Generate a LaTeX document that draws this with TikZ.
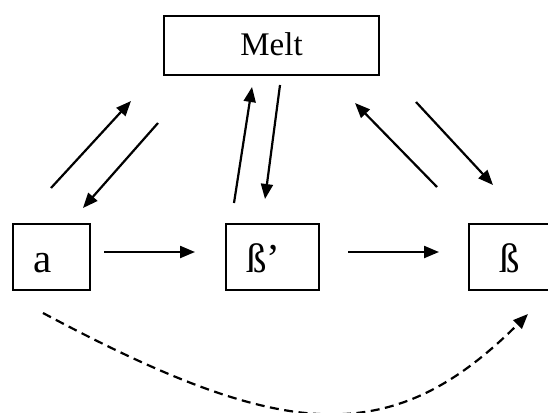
\documentclass[tikz,border=0pt]{standalone}
\usepackage{fontspec}
\setmainfont{Liberation Serif}
\usetikzlibrary{arrows.meta}
\begin{document}
\begin{tikzpicture}[x=1pt,y=-1pt,
  box/.style={draw, line width=2.2pt, minimum height=66pt, text height=30pt, text depth=0pt, inner ysep=0pt, font=\fontsize{41}{44}\selectfont, align=left},
  meltbox/.style={draw, line width=2.2pt, minimum width=215pt, minimum height=59pt, text height=21pt, text depth=0pt, inner sep=0pt, font=\fontsize{33}{36}\selectfont},
  arr/.style={line width=2.2pt, -{Triangle[length=15pt,width=12pt]}},
  dasharr/.style={arr, dash pattern=on 9pt off 5.5pt}]
\useasboundingbox (0,0) rectangle (548,412);
\node[meltbox] (melt) at (271.5,45.5) {Melt};
\node[box, text width=37pt, inner xsep=20pt] (a) at (51.5,257) {a};
\node[box, text width=53pt, inner xsep=20pt] (b1) at (272.5,257) {ß’};
\node[box, text width=23pt, inner xsep=30pt] (b) at (510.5,257) {ß};
% arrow end points
\coordinate (a1s) at (51,188);  \coordinate (a1e) at (131,101);
\coordinate (a2s) at (158,123); \coordinate (a2e) at (83,208);
\coordinate (a3s) at (234,203); \coordinate (a3e) at (252,87);
\coordinate (a4s) at (280,85);  \coordinate (a4e) at (265,199);
\coordinate (a5s) at (437,187); \coordinate (a5e) at (355,103);
\coordinate (a6s) at (416,102); \coordinate (a6e) at (493,185);
\coordinate (h1s) at (104,252); \coordinate (h1e) at (195,252);
\coordinate (h2s) at (348,252); \coordinate (h2e) at (439,252);
\coordinate (ds) at (43,313);   \coordinate (de) at (528,314);
\draw[arr] (a1s) -- (a1e);
\draw[arr] (a2s) -- (a2e);
\draw[arr] (a3s) -- (a3e);
\draw[arr] (a4s) -- (a4e);
\draw[arr] (a5s) -- (a5e);
\draw[arr] (a6s) -- (a6e);
\draw[arr] (h1s) -- (h1e);
\draw[arr] (h2s) -- (h2e);
\draw[dasharr] (ds) .. controls (281,440) and (390,452) .. (de);
\end{tikzpicture}
\end{document}
